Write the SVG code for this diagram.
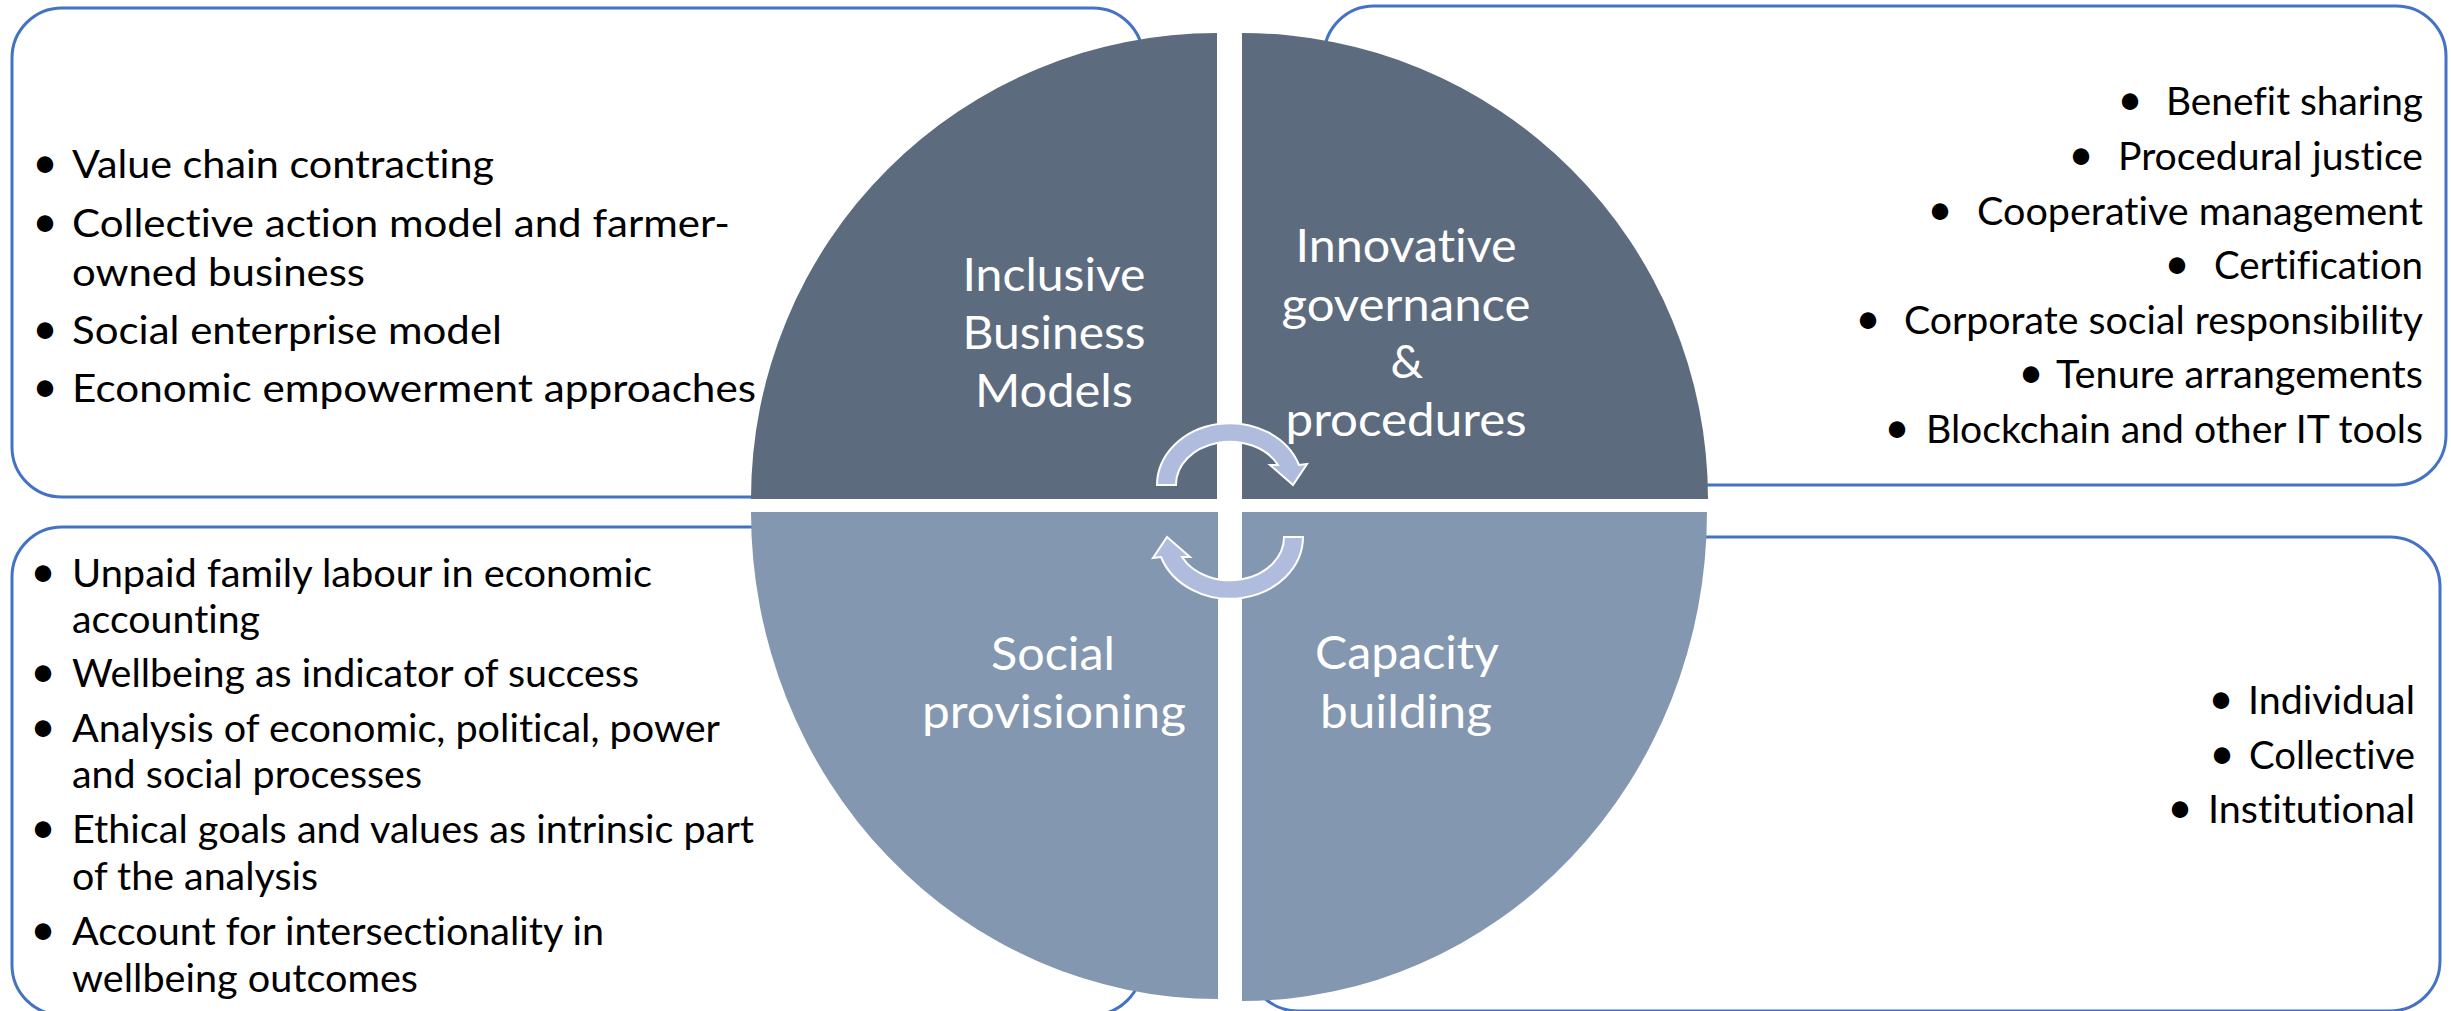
<svg xmlns="http://www.w3.org/2000/svg" width="2451" height="1011" viewBox="0 0 2451 1011">
<style>
  .box { fill: #ffffff; stroke: #4472C4; stroke-width: 3; }
  .qtop { fill: #5D6B7E; }
  .qbot { fill: #8497B0; }
  .lbl { font-family: Lato, "Open Sans", "Liberation Sans", sans-serif; font-size: 46px; fill: #ffffff; text-anchor: middle; font-variant-ligatures: none; }
  .lst { font-family: Lato, "Open Sans", "Liberation Sans", sans-serif; font-size: 38px; fill: #000000; font-variant-ligatures: none; }
  .bul { font-family: Lato, "Liberation Sans", sans-serif; font-size: 44px; fill: #000000; text-anchor: middle; }
  .arrow { fill: #B0BCDE; stroke: #ffffff; stroke-width: 2; stroke-linejoin: miter; }
</style>
<defs>
  <path id="cyc-arrow" d="M 1157,485 A 73,62 0 0 1 1299,465 L 1307,464 L 1293,485 L 1270,465 L 1278,465 A 54,43 0 0 0 1176,485 Z"/>
</defs>
<rect width="2451" height="1011" fill="#ffffff"/>

<g id="inclusive-business-models">
  <rect class="box" x="12" y="8" width="1131" height="489" rx="50" ry="50"/>
  <path class="qtop" d="M 1217,499 L 751,499 A 466,466 0 0 1 1217,33 Z"/>
  <text class="lbl" x="1054" y="291" textLength="183" lengthAdjust="spacingAndGlyphs">Inclusive</text>
  <text class="lbl" x="1054" y="349" textLength="183" lengthAdjust="spacingAndGlyphs">Business</text>
  <text class="lbl" x="1054" y="407" textLength="158" lengthAdjust="spacingAndGlyphs">Models</text>
  <text class="bul" x="45" y="178">•</text>
  <text class="lst" x="72" y="178" textLength="422" lengthAdjust="spacingAndGlyphs">Value chain contracting</text>
  <text class="bul" x="45" y="237">•</text>
  <text class="lst" x="72" y="237" textLength="658" lengthAdjust="spacingAndGlyphs">Collective action model and farmer-</text>
  <text class="lst" x="72" y="286" textLength="293" lengthAdjust="spacingAndGlyphs">owned business</text>
  <text class="bul" x="45" y="344">•</text>
  <text class="lst" x="72" y="344" textLength="430" lengthAdjust="spacingAndGlyphs">Social enterprise model</text>
  <text class="bul" x="45" y="402">•</text>
  <text class="lst" x="72" y="402" textLength="684" lengthAdjust="spacingAndGlyphs">Economic empowerment approaches</text>
</g>

<g id="innovative-governance">
  <rect class="box" x="1324" y="6" width="1122" height="479" rx="50" ry="50"/>
  <path class="qtop" d="M 1242,499 L 1242,33 A 466,466 0 0 1 1708,499 Z"/>
  <text class="lbl" x="1406" y="262" textLength="221" lengthAdjust="spacingAndGlyphs">Innovative</text>
  <text class="lbl" x="1406" y="321" textLength="249" lengthAdjust="spacingAndGlyphs">governance</text>
  <text class="lbl" x="1407" y="378">&amp;</text>
  <text class="lbl" x="1406" y="436" textLength="241" lengthAdjust="spacingAndGlyphs">procedures</text>
  <text class="bul" x="2130" y="115">•</text>
  <text class="lst" x="2166" y="115" textLength="257" lengthAdjust="spacingAndGlyphs">Benefit sharing</text>
  <text class="bul" x="2081" y="170">•</text>
  <text class="lst" x="2118" y="170" textLength="305" lengthAdjust="spacingAndGlyphs">Procedural justice</text>
  <text class="bul" x="1940" y="225">•</text>
  <text class="lst" x="1977" y="225" textLength="446" lengthAdjust="spacingAndGlyphs">Cooperative management</text>
  <text class="bul" x="2177" y="279">•</text>
  <text class="lst" x="2214" y="279" textLength="209" lengthAdjust="spacingAndGlyphs">Certification</text>
  <text class="bul" x="1868" y="334">•</text>
  <text class="lst" x="1904" y="334" textLength="519" lengthAdjust="spacingAndGlyphs">Corporate social responsibility</text>
  <text class="bul" x="2031" y="388">•</text>
  <text class="lst" x="2056" y="388" textLength="367" lengthAdjust="spacingAndGlyphs">Tenure arrangements</text>
  <text class="bul" x="1897" y="443">•</text>
  <text class="lst" x="1926" y="443" textLength="497" lengthAdjust="spacingAndGlyphs">Blockchain and other IT tools</text>
</g>

<g id="social-provisioning">
  <rect class="box" x="12" y="527" width="1130" height="488" rx="50" ry="50"/>
  <path class="qbot" d="M 1218,512 L 1218,999 A 467,487 0 0 1 751,512 Z"/>
  <text class="lbl" x="1053" y="670" textLength="124" lengthAdjust="spacingAndGlyphs">Social</text>
  <text class="lbl" x="1054" y="728" textLength="264" lengthAdjust="spacingAndGlyphs">provisioning</text>
  <text class="bul" x="43" y="587">•</text>
  <text class="lst" x="72" y="587" textLength="580" lengthAdjust="spacingAndGlyphs">Unpaid family labour in economic</text>
  <text class="lst" x="72" y="633" textLength="188" lengthAdjust="spacingAndGlyphs">accounting</text>
  <text class="bul" x="43" y="687">•</text>
  <text class="lst" x="72" y="687" textLength="567" lengthAdjust="spacingAndGlyphs">Wellbeing as indicator of success</text>
  <text class="bul" x="43" y="742">•</text>
  <text class="lst" x="72" y="742" textLength="648" lengthAdjust="spacingAndGlyphs">Analysis of economic, political, power</text>
  <text class="lst" x="72" y="788" textLength="350" lengthAdjust="spacingAndGlyphs">and social processes</text>
  <text class="bul" x="43" y="843">•</text>
  <text class="lst" x="72" y="843" textLength="682" lengthAdjust="spacingAndGlyphs">Ethical goals and values as intrinsic part</text>
  <text class="lst" x="72" y="890" textLength="246" lengthAdjust="spacingAndGlyphs">of the analysis</text>
  <text class="bul" x="43" y="945">•</text>
  <text class="lst" x="72" y="945" textLength="532" lengthAdjust="spacingAndGlyphs">Account for intersectionality in</text>
  <text class="lst" x="72" y="992" textLength="346" lengthAdjust="spacingAndGlyphs">wellbeing outcomes</text>
</g>

<g id="capacity-building">
  <rect class="box" x="1248" y="537" width="1192" height="474" rx="50" ry="50"/>
  <path class="qbot" d="M 1242,512 L 1707,512 A 465,489 0 0 1 1242,1001 Z"/>
  <text class="lbl" x="1407" y="669" textLength="184" lengthAdjust="spacingAndGlyphs">Capacity</text>
  <text class="lbl" x="1406" y="728" textLength="172" lengthAdjust="spacingAndGlyphs">building</text>
  <text class="bul" x="2221" y="714">•</text>
  <text class="lst" x="2248" y="714" textLength="167" lengthAdjust="spacingAndGlyphs">Individual</text>
  <text class="bul" x="2222" y="769">•</text>
  <text class="lst" x="2249" y="769" textLength="166" lengthAdjust="spacingAndGlyphs">Collective</text>
  <text class="bul" x="2180" y="823">•</text>
  <text class="lst" x="2208" y="823" textLength="207" lengthAdjust="spacingAndGlyphs">Institutional</text>
</g>

<g id="connectors">
  <use href="#cyc-arrow" class="arrow"/>
  <use href="#cyc-arrow" class="arrow" transform="rotate(180 1230 511)"/>
</g>
</svg>
